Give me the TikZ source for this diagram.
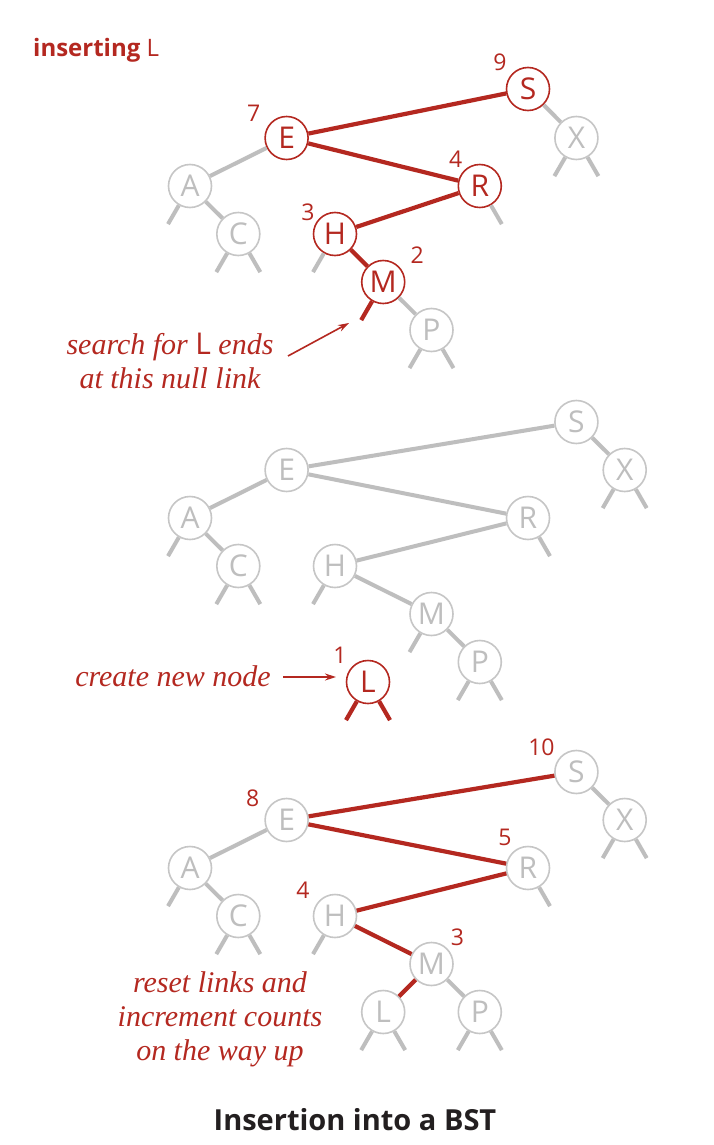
\documentclass[tikz,border=0pt]{standalone}
\usepackage{fontspec}
\setsansfont{Open Sans}
\newfontfamily\notefont{Liberation Serif}
\usetikzlibrary{calc,arrows.meta}

\definecolor{bstred}{RGB}{180,40,32}
\definecolor{linkgray}{RGB}{190,190,190}
\definecolor{ringgray}{RGB}{198,198,198}
\definecolor{titlegray}{RGB}{35,31,32}

\tikzset{
  key/.style={circle, draw=ringgray, line width=1.6pt, fill=white,
    minimum size=43pt, inner sep=0pt, text=linkgray,
    font=\sffamily\fontsize{30}{30}\selectfont},
  hotkey/.style={key, draw=bstred, text=bstred},
  glink/.style={linkgray, line width=4pt},
  rlink/.style={bstred, line width=4.2pt},
  count/.style={text=bstred, inner sep=0pt,
    font=\sffamily\fontsize{23}{23}\selectfont},
  note/.style={text=bstred, align=center, inner sep=0pt,
    font=\notefont\fontsize{30}{34}\selectfont\itshape},
  pointer/.style={bstred, line width=1.6pt, -{Stealth[length=11pt, width=7pt]}},
}

% null links hanging below a node
\newcommand\nullleft[2]{\draw[#1] (#2.240) -- ($(#2.center)+(240:44)$);}
\newcommand\nullright[2]{\draw[#1] (#2.300) -- ($(#2.center)+(300:44)$);}

\begin{document}
\begin{tikzpicture}[x=1pt, y=1pt]
\useasboundingbox[fill=white] (0,0) rectangle (713,-1145);

\node[anchor=base west, text=bstred, inner sep=0pt,
  font=\sffamily\fontsize{24}{24}\selectfont] (head) at (33,-57)
  {\bfseries inserting\mdseries\ L};

% ---------- search for L ----------
\node[key]    (A1) at (190,-186) {A};
\node[key]    (C1) at (238.3,-234) {C};
\node[hotkey] (E1) at (286.6,-138) {E};
\node[hotkey] (H1) at (335,-234) {H};
\node[hotkey] (M1) at (383.2,-282) {M};
\node[key]    (P1) at (431.5,-330) {P};
\node[hotkey] (R1) at (479.8,-186) {R};
\node[hotkey] (S1) at (528,-89) {S};
\node[key]    (X1) at (576.4,-138) {X};

\draw[glink] (E1) -- (A1);
\draw[glink] (A1) -- (C1);
\draw[glink] (S1) -- (X1);
\draw[glink] (M1) -- (P1);
\draw[rlink] (E1) -- (S1);
\draw[rlink] (E1) -- (R1);
\draw[rlink] (R1) -- (H1);
\draw[rlink] (H1) -- (M1);
\nullleft{glink}{A1}
\nullleft{glink}{C1} \nullright{glink}{C1}
\nullleft{glink}{H1}
\nullright{glink}{R1}
\nullleft{glink}{X1} \nullright{glink}{X1}
\nullleft{glink}{P1} \nullright{glink}{P1}
\nullleft{rlink}{M1}

\node[count] (nE1) at ($(E1)+(-33,25)$) {7};
\node[count] (nS1) at ($(S1)+(-28,27)$) {9};
\node[count] (nR1) at ($(R1)+(-24,27)$) {4};
\node[count] (nH1) at ($(H1)+(-27,22)$) {3};
\node[count] (nM1) at ($(M1)+(34,27)$) {2};

\node[note] (search) at (170,-361)
  {search for {\sffamily\upshape L} ends\\at this null link};
\coordinate (tail1) at (288,-356);
\coordinate (hit1) at (349,-323);
\draw[pointer] (tail1) -- (hit1);

% ---------- new node ----------
\node[key]    (A2) at (190,-518) {A};
\node[key]    (C2) at (238.3,-566) {C};
\node[key]    (E2) at (286.6,-470) {E};
\node[key]    (H2) at (335,-566) {H};
\node[key]    (M2) at (431.5,-614) {M};
\node[key]    (P2) at (479.8,-662) {P};
\node[key]    (R2) at (528,-518) {R};
\node[key]    (S2) at (576.4,-422) {S};
\node[key]    (X2) at (624.7,-470) {X};
\node[hotkey] (L2) at (368,-682) {L};

\draw[glink] (E2) -- (A2);
\draw[glink] (A2) -- (C2);
\draw[glink] (E2) -- (S2);
\draw[glink] (S2) -- (X2);
\draw[glink] (E2) -- (R2);
\draw[glink] (R2) -- (H2);
\draw[glink] (H2) -- (M2);
\draw[glink] (M2) -- (P2);
\nullleft{glink}{A2}
\nullleft{glink}{C2} \nullright{glink}{C2}
\nullleft{glink}{H2}
\nullright{glink}{R2}
\nullleft{glink}{X2} \nullright{glink}{X2}
\nullleft{glink}{M2}
\nullleft{glink}{P2} \nullright{glink}{P2}
\nullleft{rlink}{L2} \nullright{rlink}{L2}

\node[count] (nL2) at ($(L2)+(-28,27)$) {1};

\node[note] (create) at (173,-676) {create new node};
\coordinate (tail2) at (283,-677);
\coordinate (hit2) at (336,-677);
\draw[pointer] (tail2) -- (hit2);

% ---------- after insertion ----------
\node[key] (A3) at (190,-868) {A};
\node[key] (C3) at (238.3,-916) {C};
\node[key] (E3) at (286.6,-820) {E};
\node[key] (H3) at (335,-916) {H};
\node[key] (L3) at (383.2,-1012) {L};
\node[key] (M3) at (431.5,-964) {M};
\node[key] (P3) at (479.8,-1012) {P};
\node[key] (R3) at (528,-868) {R};
\node[key] (S3) at (576.4,-772) {S};
\node[key] (X3) at (624.7,-820) {X};

\draw[glink] (E3) -- (A3);
\draw[glink] (A3) -- (C3);
\draw[glink] (S3) -- (X3);
\draw[glink] (M3) -- (P3);
\draw[rlink] (E3) -- (S3);
\draw[rlink] (E3) -- (R3);
\draw[rlink] (R3) -- (H3);
\draw[rlink] (H3) -- (M3);
\draw[rlink] (M3) -- (L3);
\nullleft{glink}{A3}
\nullleft{glink}{C3} \nullright{glink}{C3}
\nullleft{glink}{H3}
\nullright{glink}{R3}
\nullleft{glink}{X3} \nullright{glink}{X3}
\nullleft{glink}{L3} \nullright{glink}{L3}
\nullleft{glink}{P3} \nullright{glink}{P3}

\node[count] (nS3) at ($(S3)+(-35,25)$) {10};
\node[count] (nE3) at ($(E3)+(-34,22)$) {8};
\node[count] (nR3) at ($(R3)+(-23,31)$) {5};
\node[count] (nH3) at ($(H3)+(-32,26)$) {4};
\node[count] (nM3) at ($(M3)+(26,27)$) {3};

\node[note] (reset) at (220,-1019)
  {reset links and\\increment counts\\on the way up};

\node[text=titlegray, inner sep=0pt,
  font=\sffamily\bfseries\fontsize{29}{29}\selectfont] (title) at (355,-1120)
  {Insertion into a BST};
\end{tikzpicture}
\end{document}
